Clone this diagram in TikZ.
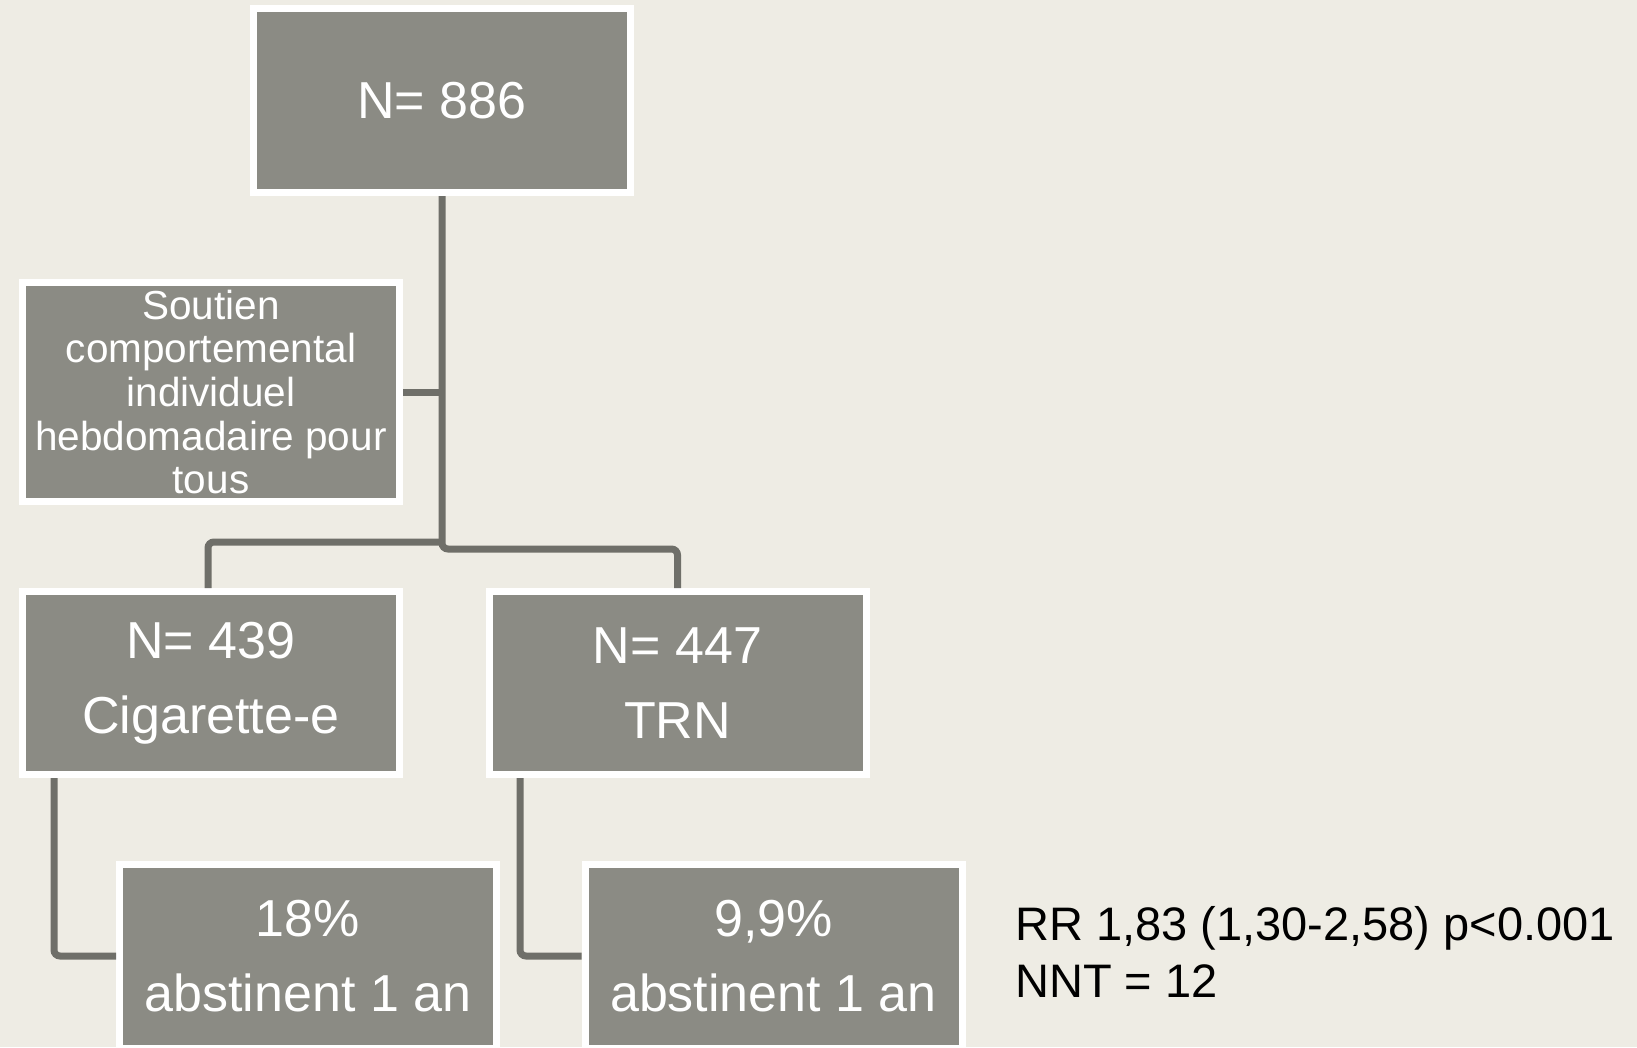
\documentclass[tikz,border=0pt]{standalone}
\usepackage{fontspec}
\setmainfont{Liberation Sans}
\usetikzlibrary{calc}
\definecolor{paper}{RGB}{238,236,228}
\definecolor{boxfill}{RGB}{139,139,132}
\definecolor{linkgrey}{RGB}{111,111,105}
\begin{document}
\begin{tikzpicture}[x=1pt,y=-1pt,
  box/.style={fill=boxfill, draw=white, line width=7pt, minimum width=377pt,
    minimum height=184pt, inner sep=0pt, text=white, align=center,
    font=\fontsize{52}{75}\selectfont},
  link/.style={draw=linkgrey, line width=7pt, rounded corners=6pt},
  note/.style={anchor=base west, inner sep=0pt, text=black,
    font=\fontsize{47}{57}\selectfont}]
\fill[paper] (0,0) rectangle (1637,1047);
\clip (0,0) rectangle (1637,1047);

% boxes
\node[box] (top) at (442,100.5) {N= 886};
\node[box, minimum height=219pt, font=\fontsize{40.5}{43.6}\selectfont] (soutien) at (211,392)
  {Soutien\\comportemental\\individuel\\hebdomadaire pour\\tous};
\node[box, minimum height=183pt] (cig) at (211,683) {N= 439\\Cigarette-e};
\node[box, minimum height=183pt] (trn) at (677.5,683) {N= 447\\TRN};
\node[box] (res1) at (308,956) {18\%\\abstinent 1 an};
\node[box] (res2) at (773.5,956) {9,9\%\\abstinent 1 an};

% levels and drop lines of the connectors
\coordinate (brL) at (0,542);
\coordinate (brR) at (0,549);
\coordinate (downL) at (208,0);
\coordinate (dropL) at (54,0);
\coordinate (dropR) at (520,0);

% connectors
\draw[link] (top.south) -- (top.south |- brR) -| (trn.north);
\draw[link] (top.south |- brL) -| (cig.north -| downL);
\draw[link] (soutien.east) -- (soutien.east -| top.south);
\draw[link] (cig.south -| dropL) |- (res1.west);
\draw[link] (trn.south -| dropR) |- (res2.west);

% statistics
\node[note] (rr) at (1015,940) {RR 1,83 (1,30-2,58) p<0.001};
\node[note] (nnt) at (1015,997) {NNT = 12};
\end{tikzpicture}
\end{document}
